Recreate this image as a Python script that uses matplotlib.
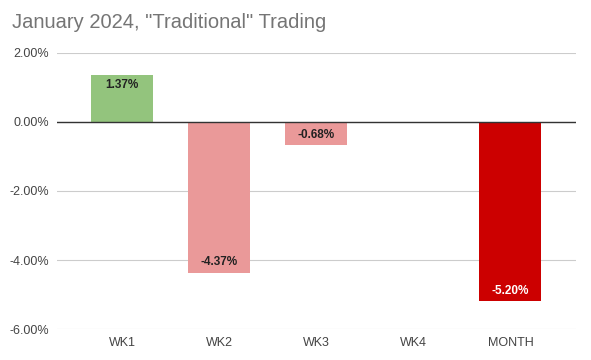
import matplotlib
matplotlib.use("Agg")
import matplotlib.pyplot as plt
from matplotlib.ticker import FuncFormatter

plt.rcParams['font.family'] = ['Liberation Sans', 'DejaVu Sans']

weeks = ["WK1", "WK2", "WK3", "WK4", "MONTH"]
returns = [1.37, -4.37, -0.68, 0.0, -5.20]
labels = ["1.37%", "-4.37%", "-0.68%", "", "-5.20%"]
colors = ["#93c47d", "#ea9999", "#ea9999", "#ea9999", "#cc0000"]
label_colors = ["#222222", "#222222", "#222222", "#222222", "white"]
yticks = [2, 0, -2, -4, -6]

fig = plt.figure(figsize=(5.91, 3.6), dpi=100)
ax = fig.add_axes([0.0965, 0.086, 0.878, 0.767])

ax.bar(range(len(weeks)), returns, width=0.64, color=colors, zorder=3)
for i, (v, lab) in enumerate(zip(returns, labels)):
    if not lab:
        continue
    off = -0.3 if v > 0 else 0.3
    ax.text(i, v + off, lab, ha="center", va="center", fontsize=8.5,
            fontweight="bold", color=label_colors[i], zorder=4)

ax.axhline(0, color="#333333", lw=1, zorder=4)
ax.set_ylim(-6, 2)
ax.set_xlim(-0.67, len(weeks) - 1 + 0.675)
ax.set_yticks(yticks)
ax.yaxis.set_major_formatter(FuncFormatter(lambda v, p: "%.2f%%" % v))
ax.set_xticks(range(len(weeks)))
ax.set_xticklabels(weeks)
ax.grid(axis="y", color="#cccccc", lw=0.8, zorder=0)
for s in ax.spines.values():
    s.set_visible(False)
ax.tick_params(length=0, labelsize=9, colors="#444444", pad=6)

fig.text(0.02, 0.937, 'January 2024, "Traditional" Trading', fontsize=14.5,
         color="#757575", va="center")

fig.savefig("out.png", dpi=100)
